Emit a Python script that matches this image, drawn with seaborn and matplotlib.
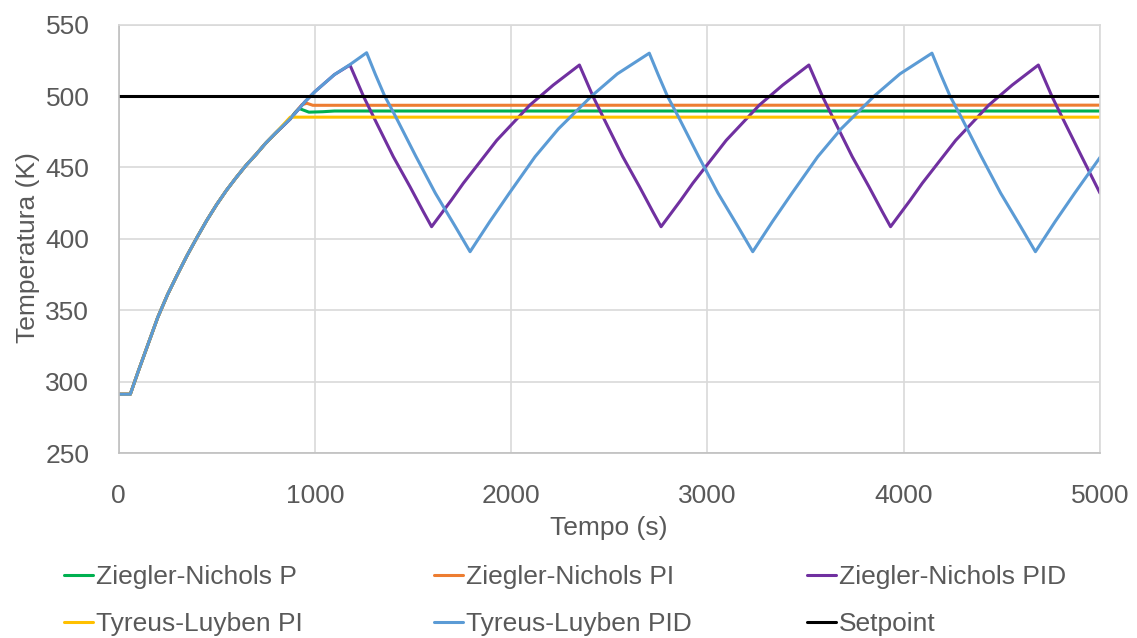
import matplotlib
matplotlib.use("Agg")
import matplotlib.pyplot as plt
import pandas as pd
import seaborn as sns

# ---------------- data ----------------
rise_t = [0, 60, 100, 150, 200, 250, 300, 350, 400, 450, 500, 550, 600,
          650, 700, 750, 800, 875]
rise_T = [291.2, 291.2, 307, 326, 345, 361, 375, 388.5, 401, 413, 424, 434, 443,
          451.5, 459, 467, 474, 484]

zn_p_t = rise_t + [900, 920, 935, 970, 1040, 1100, 5000]
zn_p_T = rise_T + [488.5, 491.3, 490.5, 488.7, 489.0, 489.5, 489.5]

zn_pi_t = rise_t + [935, 960, 990, 5000]
zn_pi_T = rise_T + [494.0, 494.9, 493.5, 493.6]

zn_pid_t = rise_t + [950, 1000, 1100,
                     1179, 1249, 1315, 1400, 1485, 1553, 1595,
                     1695, 1757, 1927, 2096, 2215, 2348,
                     2418, 2484, 2569, 2654, 2722, 2764,
                     2864, 2926, 3096, 3265, 3384, 3517,
                     3587, 3653, 3738, 3823, 3891, 3933,
                     4033, 4095, 4265, 4434, 4553, 4686,
                     4756, 4822, 4907, 5000]
zn_pid_T = rise_T + [496, 503, 515,
                     521.7, 499.5, 481, 457.5, 436.5, 419, 408.5,
                     427, 439, 469, 493.7, 507.7, 521.7,
                     499.5, 481, 457.5, 436.5, 419, 408.5,
                     427, 439, 469, 493.7, 507.7, 521.7,
                     499.5, 481, 457.5, 436.5, 419, 408.5,
                     427, 439, 469, 493.7, 507.7, 521.7,
                     499.5, 481, 457.5, 432]

tl_pi_t = rise_t[:-1] + [875, 5000]
tl_pi_T = rise_T[:-1] + [485.2, 485.2]

tl_pid_t = rise_t + [950, 1000, 1100, 1179,
                     1264, 1309, 1356, 1414, 1514, 1614, 1714, 1791,
                     1891, 1991, 2122, 2241, 2410, 2541, 2704,
                     2749, 2796, 2854, 2954, 3054, 3154, 3231,
                     3331, 3431, 3562, 3681, 3850, 3981, 4144,
                     4189, 4236, 4294, 4394, 4494, 4594, 4671,
                     4771, 4871, 5000]
tl_pid_T = rise_T + [496, 503, 515, 522,
                     530.3, 515, 500, 485, 458, 432, 409, 391,
                     412, 432, 457.5, 477, 500, 515.5, 530,
                     515, 500, 485, 458, 432, 409, 391,
                     412, 432, 457.5, 477, 500, 515.5, 530,
                     515, 500, 485, 458, 432, 409, 391,
                     412, 432, 457]

setpoint_t = [0, 5000]
setpoint_T = [500, 500]

series_names = ["Ziegler-Nichols P", "Ziegler-Nichols PI", "Ziegler-Nichols PID",
                "Tyreus-Luyben PI", "Tyreus-Luyben PID", "Setpoint"]
series_colors = ["#00B050", "#ED7D31", "#7030A0", "#FFC000", "#5B9BD5", "#000000"]
series_data = [(zn_p_t, zn_p_T), (zn_pi_t, zn_pi_T), (zn_pid_t, zn_pid_T),
               (tl_pi_t, tl_pi_T), (tl_pid_t, tl_pid_T), (setpoint_t, setpoint_T)]

x_ticks = [0, 1000, 2000, 3000, 4000, 5000]
y_ticks = [250, 300, 350, 400, 450, 500, 550]

# ---------------- build long table ----------------
rows = []
for name, (ts, Ts) in zip(series_names, series_data):
    for i, (t, T) in enumerate(zip(ts, Ts)):
        rows.append({"Tempo": t, "Temp": T, "Serie": name, "order": i})
df = pd.DataFrame(rows)

sns.set_theme(style="white")
plt.rcParams['font.family'] = ['Liberation Sans', 'DejaVu Sans']

TXT = "#595959"
FS = 19

fig = plt.figure(figsize=(11.37, 6.38), dpi=100)
ax = fig.add_axes([118.5 / 1137, 1 - 453.1 / 638, (1100 - 118.5) / 1137, (453.1 - 24.6) / 638])

sns.lineplot(data=df, x="Tempo", y="Temp", hue="Serie", hue_order=series_names,
             palette=dict(zip(series_names, series_colors)), estimator=None,
             sort=False, units="Serie", linewidth=2.2, legend=False, ax=ax)
for ln in ax.get_lines():
    ln.set_solid_joinstyle("round")

ax.set_xlim(0, 5000)
ax.set_ylim(250, 550)
ax.set_xticks(x_ticks)
ax.set_yticks(y_ticks)
ax.grid(True, color="#D9D9D9", linewidth=1.2)
ax.set_axisbelow(True)
for s in ["top", "right"]:
    ax.spines[s].set_color("#D9D9D9")
    ax.spines[s].set_linewidth(1.2)
for s in ["left", "bottom"]:
    ax.spines[s].set_color("#BFBFBF")
    ax.spines[s].set_linewidth(1.2)
ax.tick_params(axis="both", length=0, labelsize=FS, labelcolor=TXT)
ax.tick_params(axis="y", pad=21)
ax.tick_params(axis="x", pad=22)
ax.set_xlabel("")
ax.set_ylabel("")

fig.text(28 / 1137, 1 - 248 / 638, "Temperatura (K)", rotation=90, ha="center",
         va="center", fontsize=FS, color=TXT)
fig.text(609 / 1137, 1 - 528 / 638, "Tempo (s)", ha="center", va="center",
         fontsize=FS, color=TXT)

lines = ax.get_lines()[:6]
cols = [(0, 3, 64), (1, 4, 434), (2, 5, 807)]
for a, b, xpix in cols:
    fig.legend([lines[a], lines[b]], [series_names[a], series_names[b]],
               loc="upper left", bbox_to_anchor=(xpix / 1137, 1 - 565 / 638),
               frameon=False, handlelength=1.1, handletextpad=0.12,
               labelspacing=0.89, borderaxespad=0, borderpad=0,
               fontsize=FS, labelcolor=TXT)

fig.savefig("out.png", dpi=100, facecolor="white")
